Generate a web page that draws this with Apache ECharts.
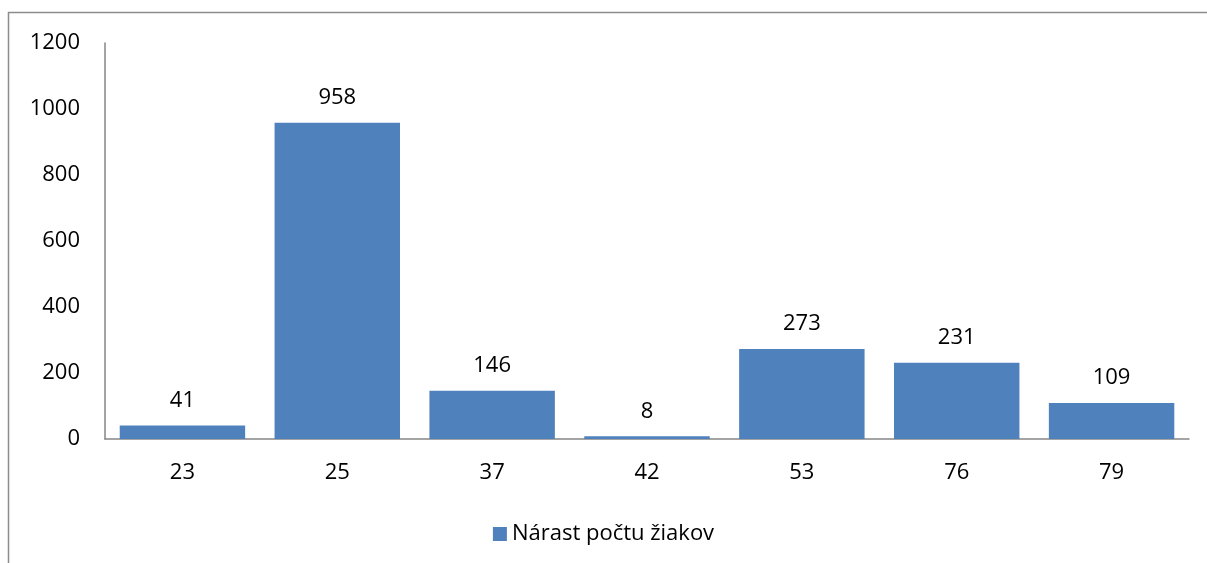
<!DOCTYPE html>
<html><head><meta charset="utf-8">
<script src="https://cdn.jsdelivr.net/npm/echarts@6/dist/echarts.min.js"></script>
<style>html,body{margin:0;padding:0;background:#fff}#c{width:1207px;height:563px}</style>
</head><body><div id="c"></div>
<script>
const categories = ['23','25','37','42','53','76','79'];
const values = [41, 958, 146, 8, 273, 231, 109];
const seriesName = 'Nárast počtu žiakov';
const yTicks = {min: 0, max: 1200, interval: 200};
const font = '"Open Sans", "Liberation Sans", sans-serif';
const chart = echarts.init(document.getElementById('c'), null, {renderer: 'canvas'});
chart.setOption({
  animation: false,
  textStyle: {fontFamily: font},
  graphic: [{type: 'rect', shape: {x: 8.5, y: 12.5, width: 1300, height: 700}, style: {fill: 'none', stroke: '#8c8c8c', lineWidth: 1.5}, silent: true}],
  grid: {left: 105, right: 18, top: 43, bottom: 124, containLabel: false},
  legend: {top: 518, left: 'center', itemWidth: 14, itemHeight: 14, itemGap: 8,
    icon: 'rect', textStyle: {fontSize: 22, color: '#000', fontFamily: font}, data: [seriesName]},
  xAxis: {type: 'category', data: categories,
    axisLine: {lineStyle: {color: '#868686', width: 1.5}}, axisTick: {show: false},
    axisLabel: {fontSize: 22, color: '#000', margin: 23, fontFamily: font}},
  yAxis: {type: 'value', min: yTicks.min, max: yTicks.max, interval: yTicks.interval,
    axisLine: {show: true, lineStyle: {color: '#868686', width: 1.5}}, axisTick: {show: false},
    splitLine: {show: false},
    axisLabel: {fontSize: 22, color: '#000', margin: 25, fontFamily: font, formatter: v => String(v)}},
  series: [{name: seriesName, type: 'bar', data: values, barCategoryGap: '19%',
    itemStyle: {color: '#4F81BD'},
    label: {show: true, position: 'top', distance: 14, fontSize: 22, color: '#000', fontFamily: font}}]
});
</script></body></html>
